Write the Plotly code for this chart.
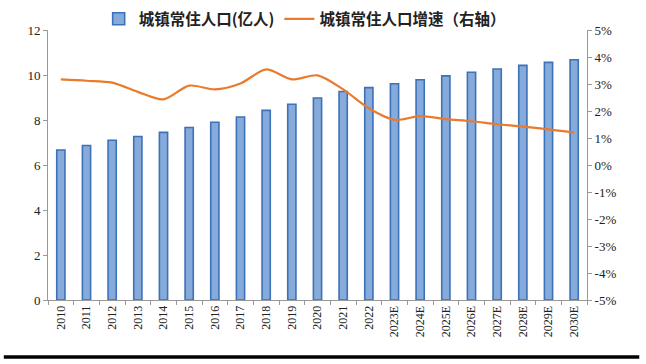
import plotly.graph_objects as go

years = ["2010", "2011", "2012", "2013", "2014", "2015", "2016", "2017", "2018", "2019", "2020",
         "2021", "2022", "2023E", "2024E", "2025E", "2026E", "2027E", "2028E", "2029E", "2030E"]
urban_pop = [6.67, 6.87, 7.10, 7.27, 7.45, 7.67, 7.90, 8.13, 8.43, 8.70, 8.98,
             9.27, 9.44, 9.61, 9.79, 9.96, 10.12, 10.27, 10.43, 10.56, 10.68]
growth_pct = [3.17, 3.12, 3.05, 2.71, 2.43, 2.94, 2.80, 3.02, 3.54, 3.17, 3.32,
              2.80, 2.10, 1.67, 1.81, 1.70, 1.62, 1.51, 1.42, 1.32, 1.20]
left_ticks = [0, 2, 4, 6, 8, 10, 12]
right_ticks = [-5, -4, -3, -2, -1, 0, 1, 2, 3, 4, 5]

serif = "Liberation Serif, Times New Roman, serif"
cjk = "Noto Sans CJK SC"

fig = go.Figure()
fig.add_trace(go.Bar(
    x=years, y=urban_pop, name="<b>城镇常住人口(亿人)</b>",
    marker=dict(color="#86AADA", line=dict(color="#3C72B8", width=1.6)),
    width=0.32, yaxis="y",
))
fig.add_trace(go.Scatter(
    x=years, y=growth_pct, name="<b>城镇常住人口增速（右轴）</b>",
    mode="lines", line=dict(color="#EA7A2C", width=2.2, shape="spline", smoothing=0.8),
    yaxis="y2",
))

fig.update_layout(
    width=646, height=364,
    margin=dict(l=48, r=59, t=30, b=64, autoexpand=False),
    paper_bgcolor="white", plot_bgcolor="white",
    showlegend=True,
    legend=dict(orientation="h", x=0.094, xanchor="left", y=1.04, yanchor="middle",
                font=dict(family=cjk, size=15.5, color="#222"),
                bgcolor="rgba(0,0,0,0)", traceorder="normal"),
    xaxis=dict(type="category", tickangle=-90, tickfont=dict(family=serif, size=12, color="#222"),
               showline=True, linecolor="#999", linewidth=1, ticks="outside", ticklen=4,
               tickcolor="#999", tickson="boundaries", showgrid=False),
    yaxis=dict(range=[0, 12], tickvals=left_ticks, tickfont=dict(family=serif, size=13, color="#222"),
               showline=True, linecolor="#999", linewidth=1, ticks="outside", ticklen=4,
               tickcolor="#999", showgrid=False, zeroline=False),
    yaxis2=dict(range=[-5, 5], tickvals=right_ticks, ticktext=[f"{v}%" for v in right_ticks],
                overlaying="y", side="right",
                tickfont=dict(family=serif, size=13, color="#222"),
                showline=True, linecolor="#999", linewidth=1, ticks="outside", ticklen=4,
                tickcolor="#999", showgrid=False, zeroline=False),
    bargap=0.6,
)
fig.add_shape(type="line", xref="paper", yref="paper", x0=-0.082, x1=1.097, y0=-0.211, y1=-0.211,
              line=dict(color="black", width=3.5))

fig.write_html("out.html", config={"displayModeBar": False},
               post_script="document.body.style.margin='0';document.body.style.overflow='hidden';")
